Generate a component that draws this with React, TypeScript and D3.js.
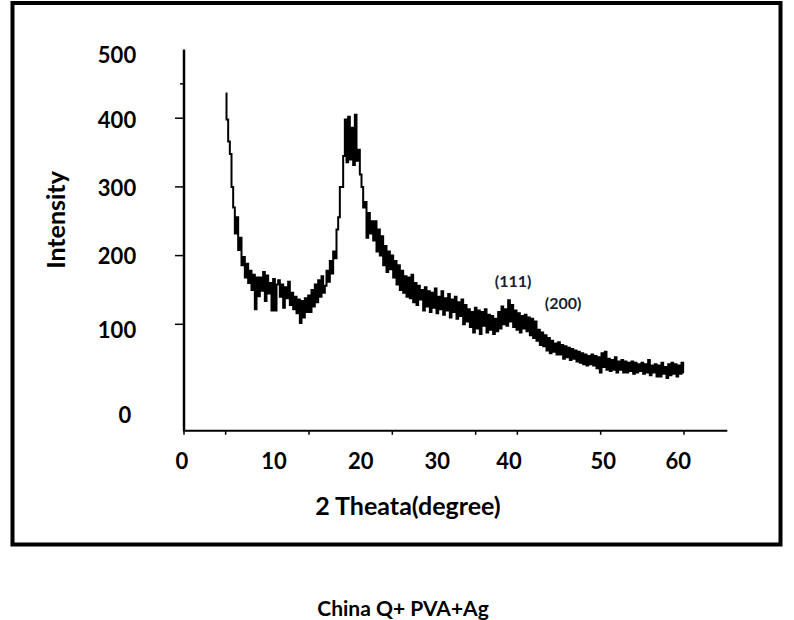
import React from "react";
import * as d3 from "d3";

// XRD scan: 2θ from 5° to 60° in 0.2° steps
const scanStart = 5;
const scanStep = 0.2;
const intensity: number[] = [
  // 5.0 – 6.8
  436, 398, 366, 348, 300, 270, 232, 256, 208, 226,
  // 7.0 – 8.8
  186, 198, 168, 188, 160, 178, 150, 172, 122, 168,
  // 9.0 – 10.8
  141, 168, 149, 176, 134, 171, 145, 160, 120, 166,
  // 11.0 – 12.8
  120, 158, 164, 140, 158, 124, 154, 138, 162, 128,
  // 13.0 – 14.8
  146, 122, 140, 116, 136, 102, 134, 110, 138, 118,
  // 15.0 – 16.8
  142, 118, 150, 126, 158, 132, 164, 140, 170, 146,
  // 17.0 – 18.8
  156, 178, 162, 192, 174, 206, 196, 238, 256, 300,
  // 19.0 – 20.8
  300, 345, 398, 336, 402, 340, 386, 332, 405, 338,
  // 21.0 – 22.8
  354, 318, 300, 270, 278, 226, 262, 232, 250, 222,
  // 23.0 – 24.8
  250, 206, 238, 200, 228, 186, 214, 176, 206, 180,
  // 25.0 – 26.8
  200, 168, 192, 158, 186, 150, 178, 146, 170, 140,
  // 27.0 – 28.8
  168, 138, 172, 132, 160, 128, 156, 136, 150, 120,
  // 29.0 – 30.8
  154, 126, 148, 118, 146, 124, 152, 116, 140, 122,
  // 31.0 – 32.8
  148, 114, 138, 120, 144, 110, 136, 118, 140, 108,
  // 33.0 – 34.8
  132, 112, 136, 100, 128, 104, 122, 96, 118, 88,
  // 35.0 – 36.8
  124, 94, 120, 86, 118, 98, 122, 88, 114, 92,
  // 37.0 – 38.8
  112, 86, 108, 90, 118, 94, 126, 100, 122, 98,
  // 39.0 – 40.8
  135, 104, 128, 96, 120, 92, 116, 88, 112, 94,
  // 41.0 – 42.8
  114, 90, 110, 84, 108, 80, 104, 76, 92, 70,
  // 43.0 – 44.8
  88, 68, 84, 62, 80, 58, 76, 60, 72, 56,
  // 45.0 – 46.8
  74, 56, 70, 50, 68, 52, 66, 48, 64, 50,
  // 47.0 – 48.8
  62, 46, 60, 44, 58, 42, 56, 40, 54, 42,
  // 49.0 – 50.8
  56, 40, 54, 36, 52, 30, 58, 38, 60, 34,
  // 51.0 – 52.8
  50, 32, 48, 34, 52, 30, 46, 34, 48, 30,
  // 53.0 – 54.8
  46, 30, 44, 32, 46, 28, 44, 30, 42, 32,
  // 55.0 – 56.8
  44, 28, 42, 30, 48, 26, 40, 30, 42, 24,
  // 57.0 – 58.8
  40, 24, 44, 28, 38, 22, 42, 26, 44, 28,
  // 59.0 – 60.0
  42, 24, 40, 28, 44, 30,
];

// Axis ticks
const xTicks = [0, 5, 15, 25, 35, 40, 50, 60];
const xTickLabels = ["0", "10", "20", "30", "40", "50", "60"];
const xLabelAnchor = [-0.24, 10.8, 21.2, 30.4, 39.0, 50.3, 59.3];
const yTicks = [100, 200, 300, 400];
const yMinorTicks = [450];
const yTickLabels = ["0", "100", "200", "300", "400", "500"];
const yLabelAnchor = [-32, 92, 199, 298, 397, 492];

// Reflection annotations
const peakLabels = ["(111)", "(200)"];
const peakLabelAt: [number, number][] = [
  [39.5, 163],
  [45.5, 131],
];

const xAxisEnd = 65.2;
const yAxisBottom = -55;

const FONT = "Lato, 'Open Sans', sans-serif";

export default function App() {
  const xScale = d3.scaleLinear().domain([0, 60]).range([184, 684]);
  const yScale = d3.scaleLinear().domain([0, 500]).range([393, 49.5]);

  const points: [number, number][] = intensity.map((v, i) => [
    scanStart + i * scanStep,
    v,
  ]);
  const line = d3
    .line<[number, number]>()
    .x((d) => xScale(d[0]))
    .y((d) => yScale(d[1]))
    .curve(d3.curveStep);

  const x0 = xScale(0);
  const yBase = yScale(yAxisBottom);

  return (
    <svg
      width={794}
      height={620}
      style={{ position: "absolute", left: 0, top: 0, background: "#fff" }}
      fontFamily={FONT}
    >
      <rect x={0} y={0} width={794} height={620} fill="#fff" />
      {/* frame */}
      <rect
        x={12.5}
        y={3}
        width={768}
        height={541.5}
        fill="none"
        stroke="#000"
        strokeWidth={4}
      />

      {/* axes */}
      <line
        x1={x0}
        x2={x0}
        y1={yScale(500)}
        y2={yBase}
        stroke="#000"
        strokeWidth={2.5}
      />
      <line
        x1={x0 - 1}
        x2={xScale(xAxisEnd)}
        y1={yBase}
        y2={yBase}
        stroke="#000"
        strokeWidth={2}
      />
      {yTicks.map((t) => (
        <line
          key={`yt${t}`}
          x1={x0 - 9}
          x2={x0}
          y1={yScale(t)}
          y2={yScale(t)}
          stroke="#000"
          strokeWidth={1.5}
        />
      ))}
      {yMinorTicks.map((t) => (
        <line
          key={`ym${t}`}
          x1={x0 - 4}
          x2={x0}
          y1={yScale(t)}
          y2={yScale(t)}
          stroke="#000"
          strokeWidth={1.5}
        />
      ))}
      {xTicks.map((t) => (
        <line
          key={`xt${t}`}
          x1={xScale(t)}
          x2={xScale(t)}
          y1={yBase}
          y2={yBase + 4}
          stroke="#000"
          strokeWidth={1.5}
        />
      ))}

      {/* tick labels */}
      {yTickLabels.map((s, i) => (
        <text
          key={`yl${s}`}
          x={s.length === 1 ? 125 : 117}
          y={yScale(yLabelAnchor[i])}
          dy="0.36em"
          textAnchor="middle"
          fontSize={22}
          fontWeight="bold"
          fill="#000"
        >
          {s}
        </text>
      ))}
      {xTickLabels.map((s, i) => (
        <text
          key={`xl${s}`}
          x={xScale(xLabelAnchor[i])}
          y={461}
          dy="0.36em"
          textAnchor="middle"
          fontSize={22}
          fontWeight="bold"
          fill="#000"
        >
          {s}
        </text>
      ))}

      {/* axis titles */}
      <text
        x={408}
        y={506}
        dy="0.36em"
        textAnchor="middle"
        fontSize={25}
        fontWeight="bold"
        fill="#000"
      >
        2 Theata(degree)
      </text>
      <text
        transform="translate(56,220) rotate(-90)"
        dy="0.36em"
        textAnchor="middle"
        fontSize={25}
        fontWeight="bold"
        fill="#000"
      >
        Intensity
      </text>

      {/* diffraction pattern */}
      <path
        d={line(points) ?? ""}
        fill="none"
        stroke="#000"
        strokeWidth={2}
        strokeLinejoin="miter"
      />

      {peakLabels.map((s, i) => (
        <text
          key={s}
          x={xScale(peakLabelAt[i][0])}
          y={yScale(peakLabelAt[i][1])}
          dy="0.36em"
          textAnchor="middle"
          fontSize={16}
          fontWeight="bold"
          fill="#1a1f33"
        >
          {s}
        </text>
      ))}

      {/* caption */}
      <text
        x={403}
        y={608}
        dy="0.36em"
        textAnchor="middle"
        fontSize={21}
        fontWeight="bold"
        fill="#000"
      >
        China Q+ PVA+Ag
      </text>
    </svg>
  );
}
